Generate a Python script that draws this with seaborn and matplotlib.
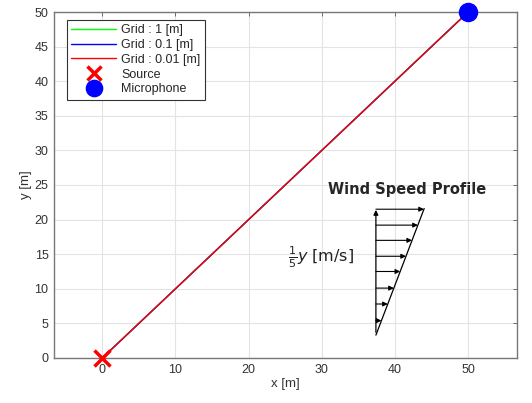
import matplotlib
matplotlib.use("Agg")
import matplotlib.pyplot as plt
import seaborn as sns
import pandas as pd

# Ray paths for each grid size (straight line source -> microphone)
path_x = [0, 50]
path_y = [0, 50]
grid_labels = ['Grid : 1 [m]', 'Grid : 0.1 [m]', 'Grid : 0.01 [m]']
grid_colors = ['#00ff00', '#0000ff', '#ff0000']

source_xy = (0, 0)
mic_xy = (50, 50)

# Wind speed profile sketch
profile_base = (37.4, 3.3)
profile_top = (44.0, 21.6)
arrow_heights = [21.5, 19.2, 17.0, 14.7, 12.5, 10.1, 7.8, 5.4]

sns.set_style("whitegrid")
plt.rcParams['font.family'] = ['Liberation Sans', 'DejaVu Sans']

fig = plt.figure(figsize=(5.32, 4.03), dpi=100)
ax = fig.add_axes([0.1015, 0.1117, 0.8705, 0.8585])

for lab, col in zip(grid_labels, grid_colors):
    df = pd.DataFrame({'x': path_x, 'y': path_y})
    sns.lineplot(data=df, x='x', y='y', color=col, lw=1.0, label=lab, ax=ax)

ax.plot(*source_xy, marker='x', color='red', ms=11, mew=2.5, ls='none', label='Source',
        zorder=5, clip_on=False)
ax.plot(*mic_xy, marker='o', color='blue', ms=13, ls='none', label='Microphone',
        zorder=5, clip_on=False)

# wind profile: vertical axis, slanted envelope, horizontal arrows
x0, y0 = profile_base
x1, y1 = profile_top
ax.annotate('', xy=(x0, y1 + 0.2), xytext=(x0, y0),
            arrowprops=dict(arrowstyle='-|>', color='black', lw=0.9, mutation_scale=7))
ax.plot([x0, x1], [y0, y1], color='black', lw=0.9)
for h in arrow_heights:
    xe = x0 + (x1 - x0) * (h - y0) / (y1 - y0)
    ax.annotate('', xy=(xe, h), xytext=(x0, h),
                arrowprops=dict(arrowstyle='-|>', color='black', lw=0.8,
                                mutation_scale=7, shrinkA=0, shrinkB=0))
ax.text(41.7, 24.4, 'Wind Speed Profile', ha='center', va='center',
        fontsize=10.5, fontweight='bold', family='DejaVu Sans')
ax.text(25.4, 14.6, r'$\frac{1}{5}y$ [m/s]', ha='left', va='center', fontsize=11.5,
        family='DejaVu Sans', color='#222222')

ax.set_xlim(-6.6, 56.7)
ax.set_ylim(0, 50)
ax.set_xticks(range(0, 51, 10))
ax.set_yticks(range(0, 51, 5))
ax.set_xlabel('x [m]', fontsize=9.5, color='#333333', labelpad=2)
ax.set_ylabel('y [m]', fontsize=9.5, color='#333333', labelpad=2)
ax.tick_params(direction='in', top=True, right=True, length=3, width=0.6,
               colors='#555555', labelcolor='#333333', labelsize=9, pad=4)
ax.grid(True, color='#e3e3e3', lw=0.8)
for sp in ax.spines.values():
    sp.set_color('#777777')
    sp.set_linewidth(1.0)

leg = ax.legend(loc='upper left', fontsize=9, frameon=True, fancybox=False,
                edgecolor='#333333', framealpha=1, borderaxespad=0,
                handlelength=3.6, handletextpad=0.4, labelspacing=0.22,
                borderpad=0.35, bbox_to_anchor=(0.028, 0.977), markerscale=0.9)
leg.get_frame().set_linewidth(0.8)

fig.savefig('out.png', dpi=100)
